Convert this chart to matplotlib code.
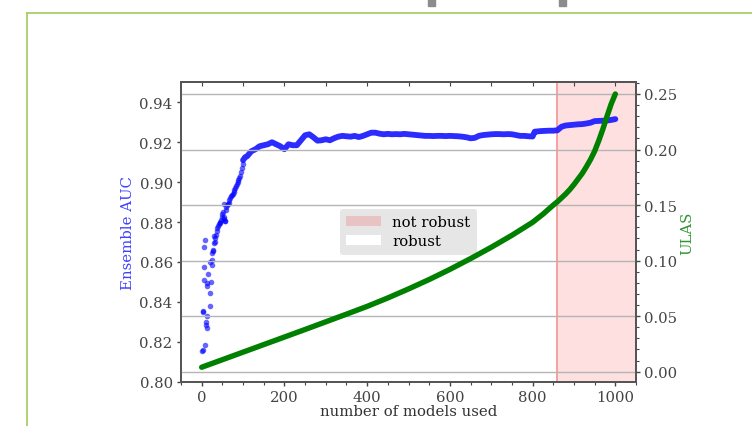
import matplotlib
matplotlib.use('Agg')
import matplotlib.pyplot as plt
from matplotlib.patches import Patch, Rectangle
from matplotlib.lines import Line2D
from matplotlib.ticker import MultipleLocator, AutoMinorLocator

plt.rcParams['font.family'] = ['DejaVu Serif']

# ---------------- data ----------------
early_x = [4, 9, 10, 13, 10, 4, 14, 20, 20, 14, 12, 5, 23, 16, 6, 24, 25, 26, 28, 6, 8, 29, 30,
           2, 1, 19, 27, 31, 33, 35, 37, 38, 40, 42, 44, 45, 47, 48, 50, 52, 53, 54, 55, 56, 57,
           58, 59, 61, 63, 65, 67, 69, 71, 73, 75, 77, 79, 81, 83, 85, 87, 89, 91, 93, 95, 97, 99]
early_y = [0.8159, 0.8184, 0.8284, 0.8268, 0.8298, 0.8356, 0.8330, 0.8378, 0.8444, 0.8481,
           0.8494, 0.8511, 0.8501, 0.8540, 0.8573, 0.8585, 0.8611, 0.8643, 0.8656, 0.8673,
           0.8711, 0.8695, 0.8728, 0.8350, 0.8155, 0.8600, 0.8660, 0.8700, 0.8720, 0.8735,
           0.8757, 0.8770, 0.8782, 0.8790, 0.8795, 0.8798, 0.8810, 0.8824, 0.8840, 0.8849,
           0.8890, 0.8825, 0.8815, 0.8807, 0.8807, 0.8860, 0.8874, 0.8885, 0.8890, 0.8895,
           0.8910, 0.8920, 0.8930, 0.8935, 0.8940, 0.8950, 0.8960, 0.8970, 0.8980, 0.8990,
           0.9000, 0.9010, 0.9020, 0.9030, 0.9050, 0.9070, 0.9090]

plateau_x = [100, 105, 110, 120, 130, 140, 150, 160, 170, 180, 190, 200, 210, 220, 230, 240,
             250, 260, 270, 280, 290, 300, 310, 320, 330, 340, 350, 360, 370, 380, 390, 400,
             410, 420, 430, 440, 450, 460, 470, 480, 490, 500, 510, 520, 530, 540, 550, 560,
             570, 580, 590, 600, 610, 620, 630, 640, 650, 660, 670, 680, 690, 700, 710, 720,
             730, 740, 750, 760, 770, 780, 790, 800, 805, 810, 820, 830, 840, 850, 860, 870,
             880, 890, 900, 910, 920, 930, 940, 950, 960, 970, 980, 990, 1000]
plateau_y = [0.9110, 0.9125, 0.9130, 0.9155, 0.9165, 0.9180, 0.9185, 0.9190, 0.9200, 0.9190,
             0.9180, 0.9165, 0.9190, 0.9185, 0.9185, 0.9210, 0.9235, 0.9240, 0.9225, 0.9208,
             0.9210, 0.9215, 0.9210, 0.9220, 0.9228, 0.9232, 0.9230, 0.9228, 0.9232, 0.9226,
             0.9232, 0.9240, 0.9248, 0.9248, 0.9243, 0.9240, 0.9242, 0.9240, 0.9241, 0.9240,
             0.9242, 0.9240, 0.9238, 0.9236, 0.9234, 0.9232, 0.9232, 0.9231, 0.9232, 0.9232,
             0.9231, 0.9232, 0.9231, 0.9230, 0.9228, 0.9225, 0.9220, 0.9222, 0.9232, 0.9236,
             0.9238, 0.9240, 0.9241, 0.9241, 0.9240, 0.9241, 0.9240, 0.9236, 0.9232, 0.9232,
             0.9230, 0.9229, 0.9253, 0.9254, 0.9256, 0.9257, 0.9258, 0.9258, 0.9260, 0.9278,
             0.9284, 0.9286, 0.9288, 0.9290, 0.9291, 0.9294, 0.9298, 0.9306, 0.9307, 0.9308,
             0.9309, 0.9312, 0.9316]

ulas_x = [0, 50, 100, 150, 200, 250, 300, 350, 400, 450, 500, 550, 600, 650, 700, 750,
          800, 825, 850, 860, 870, 880, 890, 900, 910, 920, 930, 940, 950, 960, 970, 980,
          990, 1000]
ulas_y = [0.0040, 0.0108, 0.0176, 0.0244, 0.0312, 0.0380, 0.0449, 0.0518, 0.0588, 0.0664,
          0.0745, 0.0830, 0.0921, 0.1018, 0.1120, 0.1228, 0.1345, 0.1418, 0.1500, 0.1530,
          0.1565, 0.1600, 0.1640, 0.1685, 0.1735, 0.1785, 0.1845, 0.1910, 0.1985, 0.2080,
          0.2185, 0.2300, 0.2410, 0.2500]

robust_limit = 858
x_ticks = [0, 200, 400, 600, 800, 1000]
auc_ticks = [0.80, 0.82, 0.84, 0.86, 0.88, 0.90, 0.92, 0.94]
ulas_ticks = [0.00, 0.05, 0.10, 0.15, 0.20, 0.25]
legend_labels = ['not robust', 'robust']

FS = 10.7

# ---------------- figure ----------------
fig = plt.figure(figsize=(7.52, 4.27), dpi=100)
ax = fig.add_axes([181 / 752, 1 - 382.7 / 427, 455 / 752, 299.7 / 427])
ax2 = ax.twinx()

ax.set_xlim(-50, 1050)
ax.set_ylim(0.80, 0.9502)
ax2.set_ylim(-0.009, 0.2608)

ax.axvspan(robust_limit, 1050, facecolor=(1, 0, 0, 0.12), edgecolor='none', zorder=0)
ax.axvline(robust_limit, color='#f59a9a', lw=1.3, zorder=0.5)

# blue ensemble AUC
ax.plot(plateau_x, plateau_y, '-', color='#1a1aff', lw=4.2, alpha=0.92,
        solid_capstyle='round', solid_joinstyle='round', zorder=2)
ax.plot(early_x, early_y, 'o', color='blue', ms=4.0, mew=0, alpha=0.6, zorder=2)

# green ULAS
ax2.grid(axis='y', color='#b5b5b5', lw=1.0)
ax2.set_axisbelow(True)
ax2.plot(ulas_x, ulas_y, '-', color='green', lw=3.9, solid_capstyle='round',
         solid_joinstyle='round', zorder=3)

# ticks
ax.set_xticks(x_ticks)
ax.xaxis.set_minor_locator(MultipleLocator(50))
ax.set_yticks(auc_ticks)
ax.set_yticklabels([f'{t:.2f}' for t in auc_ticks])
ax2.set_yticks(ulas_ticks)
ax2.set_yticklabels([f'{t:.2f}' for t in ulas_ticks])
ax2.yaxis.set_minor_locator(AutoMinorLocator(5))

tick_col = '#444444'
ax.tick_params(axis='both', which='major', direction='out', length=3, width=1,
               colors=tick_col, labelsize=FS, pad=3)
ax.tick_params(axis='x', which='minor', direction='out', length=2, width=0.8, colors=tick_col)
ax2.tick_params(axis='y', which='major', direction='out', length=3, width=1,
                colors=tick_col, labelsize=FS, pad=3)
ax2.tick_params(axis='y', which='minor', direction='out', length=2, width=0.8, colors=tick_col)

sec = ax.secondary_xaxis('top')
sec.set_xticks(list(range(0, 1001, 100)))
sec.tick_params(direction='in', length=3, width=0.8, colors=tick_col, labeltop=False)

for a in (ax, ax2):
    for s in a.spines.values():
        s.set_color('#555555')
        s.set_linewidth(1.3)
sec.spines['top'].set_color('#555555')
sec.spines['top'].set_linewidth(1.3)

ax.set_xlabel('number of models used', fontsize=FS, color='#333333', labelpad=0)
ax.set_ylabel('Ensemble AUC', fontsize=FS, color='#4040ff', labelpad=3)
ax2.set_ylabel('ULAS', fontsize=FS, color='#2f962f', labelpad=2)

handles = [Patch(facecolor=(1, 0, 0, 0.15), edgecolor='none'),
           Patch(facecolor='white', edgecolor='none')]
leg = ax.legend(handles, legend_labels, loc='center', fontsize=FS, facecolor='#e6e6e6',
                edgecolor='none', framealpha=1, fancybox=True, handlelength=2.3,
                borderpad=0.45, labelspacing=0.35)
leg.set_zorder(1.5)

# page frame decoration
fig.add_artist(Line2D([26.5 / 752, 1], [1 - 13.7 / 427] * 2, color='#a8cf6b', lw=1.3,
                      transform=fig.transFigure))
fig.add_artist(Line2D([26.5 / 752] * 2, [0, 1 - 13.7 / 427], color='#a8cf6b', lw=1.3,
                      transform=fig.transFigure))
for bx in (428, 559):
    fig.add_artist(Rectangle((bx / 752, 1 - 7 / 427), 7 / 752, 7 / 427, color='#8c8c8c',
                             transform=fig.transFigure))

fig.savefig('out.png', dpi=100)
